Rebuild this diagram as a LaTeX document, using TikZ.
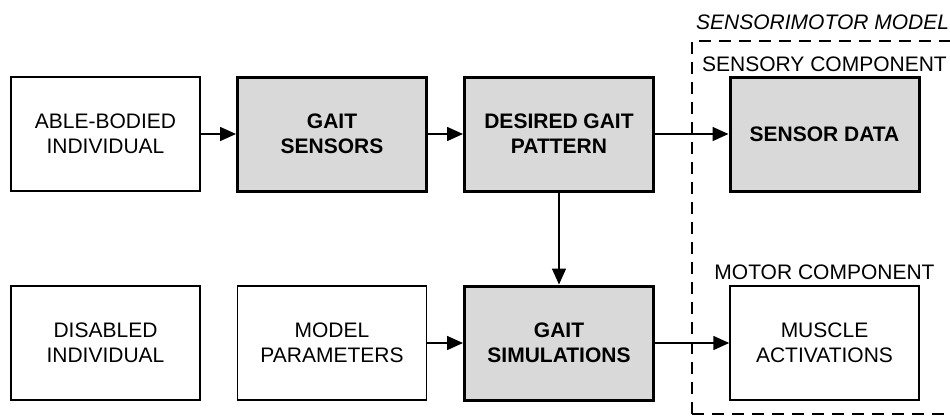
\documentclass[tikz,border=0pt]{standalone}
\usepackage{fontspec}
\setmainfont{Liberation Sans}
\usetikzlibrary{arrows.meta}
\definecolor{boxgray}{HTML}{D9D9D9}
\begin{document}
\begin{tikzpicture}[x=1pt,y=-1pt,
  block/.style={draw=black, line width=1.5pt, minimum width=189pt, minimum height=114pt,
    inner sep=0pt, align=center, font=\fontsize{21}{25}\selectfont},
  keyblock/.style={block, fill=boxgray, line width=3pt, font=\fontsize{21}{25}\selectfont\bfseries},
  flow/.style={line width=1.6pt, -{Triangle[length=16pt,width=14pt]}},
  caption/.style={anchor=base, inner sep=0pt, font=\fontsize{21}{25}\selectfont}
]
\useasboundingbox (0,0) rectangle (950,415);
\clip (0,0) rectangle (950,415);

% sensorimotor model frame (runs past the right and bottom edges)
\draw[line width=1.5pt, dash pattern=on 12pt off 8pt] (692,414) -- (692,41) -- (970,41);
\draw[line width=1.5pt, dash pattern=on 12pt off 8pt] (692,414) -- (970,414);
\node[caption, anchor=base west, font=\fontsize{21}{25}\selectfont\itshape] (modeltitle) at (696,29) {SENSORIMOTOR MODEL};
\node[caption] (sensorycap) at (824.5,71) {SENSORY COMPONENT};
\node[caption] (motorcap) at (824.5,279) {MOTOR COMPONENT};

% top row
\node[block] (able) at (105.5,134) {ABLE-BODIED\\INDIVIDUAL};
\node[keyblock] (sensors) at (332,134) {GAIT\\SENSORS};
\node[keyblock] (desired) at (559,134) {DESIRED GAIT\\PATTERN};
\node[keyblock] (sdata) at (824.5,134) {SENSOR DATA};

% bottom row
\node[block] (disabled) at (105.5,343) {DISABLED\\INDIVIDUAL};
\node[block] (params) at (332,343) {MODEL\\PARAMETERS};
\node[keyblock] (sim) at (559,343) {GAIT\\SIMULATIONS};
\node[block] (muscle) at (824.5,343) {MUSCLE\\ACTIVATIONS};

% connectors
\draw[flow] (able) -- (sensors);
\draw[flow] (sensors) -- (desired);
\draw[flow] (desired) -- (sdata);
\draw[flow] (desired) -- (sim);
\draw[flow] (params) -- (sim);
\draw[flow] (sim) -- (muscle);
\end{tikzpicture}
\end{document}
